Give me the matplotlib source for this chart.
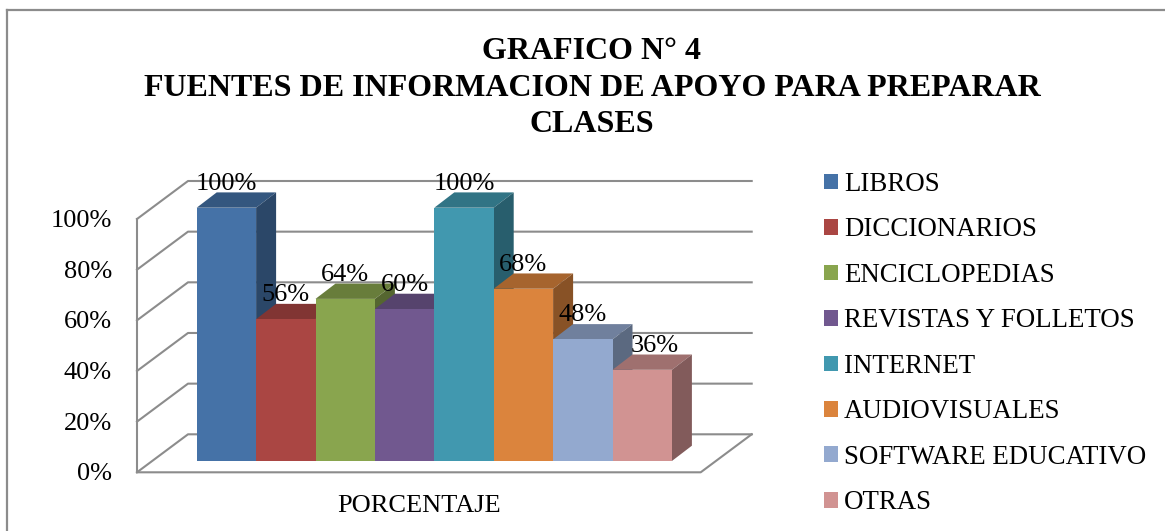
import matplotlib
matplotlib.use('Agg')
import matplotlib.pyplot as plt
from matplotlib.patches import Polygon, Patch

plt.rcParams['font.family'] = ['Liberation Serif', 'DejaVu Serif']

# Data
categorias = ['LIBROS', 'DICCIONARIOS', 'ENCICLOPEDIAS', 'REVISTAS Y FOLLETOS',
              'INTERNET', 'AUDIOVISUALES', 'SOFTWARE EDUCATIVO', 'OTRAS']
valores = [100, 56, 64, 60, 100, 68, 48, 36]
colores = ['#4572A7', '#AA4643', '#89A54E', '#71588F',
           '#4198AF', '#DB843D', '#93A9CF', '#D19392']
ticks = [0, 20, 40, 60, 80, 100]
titulo = 'GRAFICO N° 4\nFUENTES DE INFORMACION DE APOYO PARA PREPARAR\nCLASES'
eje_x = 'PORCENTAJE'


def oscurecer(color, f):
    r, g, b = matplotlib.colors.to_rgb(color)
    return (r * f, g * f, b * f)


W, H = 1165, 531
fig = plt.figure(figsize=(W / 100, H / 100), dpi=100)
ax = fig.add_axes([0, 0, 1, 1])
ax.axis('off')

# one x unit = one bar, one y unit = one percent
px_x = 59.4
px_y = 2.533
x0_px = 196.7
y0_px = 461
ax.set_xlim(-x0_px / px_x, (W - x0_px) / px_x)
ax.set_ylim(-(H - y0_px) / px_y, y0_px / px_y)

# bar depth
dx = 20 / px_x
dy = 15.3 / px_y

# walls
gris = '#8c8c8c'
left = -59.7 / px_x
right = 504 / px_x
base = -11.3 / px_y
wx = 51 / px_x
wy = 38 / px_y
for t in ticks:
    ax.plot([left, left + wx, right + wx],
            [base + t, base + t + wy, base + t + wy], color=gris, lw=1.5, zorder=1)
ax.plot([left, left], [base, base + 100], color=gris, lw=1.5, zorder=1)
ax.plot([left, right, right + wx], [base, base, base + wy], color=gris, lw=1.5, zorder=1)

# bars, left to right so each one hides the side of the previous
for i, (v, c) in enumerate(zip(valores, colores)):
    z = 2 + i
    ax.bar(i, v, width=1, align='edge', color=c, zorder=z + 0.2, linewidth=0)
    ax.add_patch(Polygon([(i, v), (i + 1, v), (i + 1 + dx, v + dy), (i + dx, v + dy)],
                         facecolor=oscurecer(c, 0.76), linewidth=0, zorder=z))
    ax.add_patch(Polygon([(i + 1, 0), (i + 1 + dx, dy), (i + 1 + dx, v + dy), (i + 1, v)],
                         facecolor=oscurecer(c, 0.62), linewidth=0, zorder=z))

# the last label sits a bit to the right of its bar
for i, v in enumerate(valores):
    extra = 13 / px_x if i == len(valores) - 1 else 0
    ax.text(i + 0.5 + extra, v + 9.5, '%d%%' % v, ha='center', va='center', fontsize=19,
            color='black', zorder=20)

for t in ticks:
    ax.text(left - 25 / px_x, base + t - 0.8, '%d%%' % t, ha='right', va='center', fontsize=19)

ax.text(3.75, -17.8, eje_x, ha='center', va='center', fontsize=19)

fig.text(592 / W, 1 - 88 / H, titulo, ha='center', va='center', fontsize=23,
         fontweight='bold', linespacing=1.35)

handles = [Patch(facecolor=c, linewidth=0) for c in colores]
fig.legend(handles, categorias, loc='upper left', bbox_to_anchor=(824 / W, 1 - 172 / H),
           frameon=False, fontsize=19.4, handlelength=0.52, handleheight=0.52,
           handletextpad=0.22, labelspacing=0.76, borderpad=0, borderaxespad=0)

# outer border
borde_x = (7 - x0_px) / px_x
borde_y = (y0_px - 10) / px_y
ax.plot([borde_x, borde_x], [ax.get_ylim()[0], borde_y], color=gris, lw=1.6, zorder=0,
        solid_capstyle='projecting')
ax.plot([borde_x, ax.get_xlim()[1]], [borde_y, borde_y], color=gris, lw=1.6, zorder=0,
        solid_capstyle='projecting')

fig.savefig('out.png', dpi=100)
